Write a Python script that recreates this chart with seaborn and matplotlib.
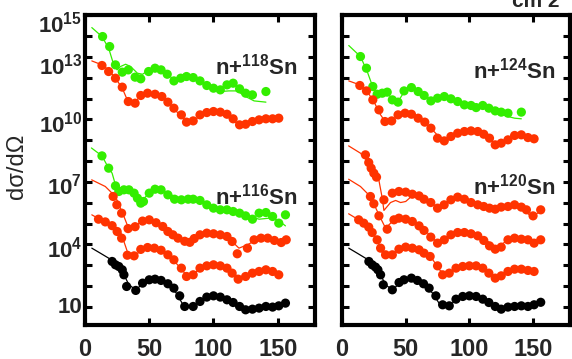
import numpy as np
import pandas as pd
import seaborn as sns
import matplotlib.pyplot as plt
import matplotlib.transforms as mtransforms
from matplotlib.ticker import NullLocator

# ---------------- data (angle in deg, cross section as log10 value) ----------------
# Left panel: n+118Sn (green, red) and n+116Sn (green, red, red, black)
l_g118_x = [13.7, 19.2, 23.7, 29.0, 33.7, 39.0, 43.4, 49.5, 54.5, 59.2, 64.0, 69.2, 74.5, 79.0, 84.2, 89.5, 94.8, 100.0, 105.3, 110.5, 115.3, 120.3, 125.0, 130.3, 140.8]
l_g118_y = [13.98, 13.50, 12.62, 12.27, 12.38, 12.03, 11.95, 12.30, 12.46, 12.38, 12.17, 11.85, 11.98, 12.06, 12.01, 11.85, 11.63, 11.50, 11.42, 11.66, 11.74, 11.47, 11.26, 11.18, 11.34]
l_g118_lx = [5.3, 13.2, 18.4, 22.4, 25.0, 27.6, 31.6, 35.5, 40.8, 44.8, 50.0, 55.3, 61.9, 68.4, 75.0, 82.9, 90.8, 98.7, 105.3, 111.9, 118.4, 125.0, 131.6, 140.8]
l_g118_ly = [14.41, 13.98, 13.42, 12.62, 12.38, 12.54, 12.65, 12.54, 12.22, 12.17, 12.38, 12.46, 12.30, 11.95, 12.01, 11.98, 11.82, 11.53, 11.34, 11.37, 11.37, 11.10, 10.89, 10.83]

l_r118_x = [13.2, 18.4, 23.7, 29.0, 33.7, 39.0, 43.4, 48.7, 54.5, 59.8, 64.5, 69.2, 75.0, 79.0, 84.2, 89.5, 94.8, 100.0, 105.3, 110.5, 115.3, 120.3, 125.0, 130.3, 135.5, 140.8, 146.0, 150.8]
l_r118_y = [12.59, 12.30, 11.98, 11.55, 10.86, 10.78, 11.15, 11.26, 11.21, 11.10, 10.83, 10.54, 10.22, 9.87, 9.93, 10.22, 10.33, 10.38, 10.35, 10.25, 10.03, 9.74, 9.77, 9.90, 9.98, 10.03, 10.03, 10.06]
l_r118_lx = [5.3, 13.2, 18.4, 23.7, 29.0, 32.9, 38.2, 43.4, 50.0, 56.6, 64.5, 72.4, 79.0, 84.2, 90.8, 98.7, 106.6, 114.5, 119.8, 127.6, 135.5, 151.3]
l_r118_ly = [12.81, 12.62, 12.38, 11.98, 11.50, 10.94, 10.83, 11.10, 11.26, 11.18, 10.86, 10.30, 9.90, 9.93, 10.22, 10.38, 10.30, 9.98, 9.74, 9.82, 9.98, 10.06]

l_g116_x = [13.2, 18.4, 23.7, 26.3, 30.3, 34.2, 38.2, 40.8, 43.4, 45.5, 50.0, 54.5, 59.2, 64.5, 69.7, 75.0, 80.3, 84.2, 89.5, 94.8, 100.0, 105.3, 110.5, 115.3, 120.3, 125.0, 130.3, 135.5, 140.8, 146.0, 150.8, 156.0]
l_g116_y = [8.25, 7.66, 6.81, 6.54, 6.62, 6.62, 6.46, 6.22, 5.98, 6.06, 6.46, 6.65, 6.62, 6.38, 6.17, 6.14, 6.17, 6.17, 6.11, 5.90, 5.74, 5.66, 5.66, 5.58, 5.50, 5.37, 5.21, 5.50, 5.53, 5.34, 5.02, 5.42]
l_g116_lx = [5.0, 13.2, 18.4, 21.1, 23.7, 27.6, 32.9, 38.2, 43.4, 46.1, 51.3, 56.6, 64.5, 72.4, 80.3, 88.2, 96.1, 104.0, 111.9, 119.8, 127.6, 135.5, 143.4, 150.0, 156.0]
l_g116_ly = [8.63, 8.25, 7.66, 7.42, 6.86, 6.70, 6.65, 6.46, 6.06, 6.22, 6.54, 6.65, 6.46, 6.22, 6.17, 6.11, 5.90, 5.74, 5.69, 5.58, 5.34, 5.21, 5.26, 5.18, 4.89]

l_ra_x = [21.9, 24.8, 28.5, 33.5, 39.0, 44.8, 50.0, 55.3, 60.5, 64.5, 68.4, 72.4, 77.6, 81.6, 85.0, 89.5, 94.8, 100.0, 105.3, 110.5, 114.5, 118.5, 126.4, 131.6, 137.0, 142.2, 147.4, 152.7, 156.6]
l_ra_y = [6.30, 5.90, 5.50, 4.76, 4.85, 5.12, 5.18, 5.04, 4.86, 4.62, 4.46, 4.30, 4.15, 4.10, 4.28, 4.46, 4.54, 4.51, 4.46, 4.38, 4.14, 3.55, 3.82, 4.22, 4.30, 4.30, 4.19, 4.09, 4.22]
l_ra_lx = [5.2, 15.8, 23.7, 30.3, 34.2, 42.1, 50.0, 57.9, 68.4, 78.9, 86.8, 97.4, 107.9, 115.8, 119.8, 126.4, 134.2, 144.8, 156.6]
l_ra_ly = [7.10, 6.78, 6.30, 5.34, 4.73, 5.02, 5.18, 4.94, 4.46, 4.14, 4.38, 4.54, 4.43, 4.06, 3.82, 3.98, 4.25, 4.27, 4.19]

l_rb_x = [10.5, 15.8, 21.1, 25.0, 28.5, 32.9, 38.2, 43.4, 48.7, 54.0, 59.2, 64.5, 69.2, 75.0, 79.0, 84.2, 89.5, 94.8, 100.0, 105.3, 110.5, 114.5, 119.2, 125.0, 130.3, 135.5, 140.8, 146.0, 150.8]
l_rb_y = [5.21, 5.08, 4.90, 4.62, 4.30, 3.48, 3.45, 3.76, 3.85, 3.82, 3.72, 3.50, 3.26, 2.86, 2.46, 2.54, 2.86, 2.97, 3.02, 2.97, 2.86, 2.62, 2.33, 2.46, 2.62, 2.70, 2.78, 2.70, 2.54]
l_rb_lx = [5.3, 10.5, 21.1, 27.6, 31.6, 34.2, 39.5, 46.1, 54.0, 61.9, 69.8, 77.6, 82.9, 90.8, 100.0, 109.2, 117.1, 122.4, 130.3, 140.8, 150.8]
l_rb_ly = [5.42, 5.24, 4.97, 4.62, 3.90, 3.42, 3.50, 3.82, 3.82, 3.58, 3.18, 2.62, 2.49, 2.91, 3.05, 2.91, 2.54, 2.38, 2.59, 2.78, 2.57]

l_k_x = [21.1, 23.7, 26.3, 29.0, 30.3, 32.4, 39.5, 44.8, 50.0, 54.5, 59.2, 64.5, 69.2, 73.7, 77.6, 84.2, 89.5, 94.8, 100.0, 105.3, 110.5, 115.3, 120.3, 125.0, 130.3, 135.5, 140.8, 146.0, 150.8, 156.0]
l_k_y = [3.18, 3.02, 2.94, 2.78, 2.54, 1.98, 1.79, 2.14, 2.30, 2.33, 2.27, 2.11, 1.90, 1.53, 1.02, 1.02, 1.26, 1.47, 1.53, 1.47, 1.34, 1.21, 1.02, 0.86, 0.89, 0.94, 1.02, 0.99, 1.05, 1.18]
l_k_lx = [5.3, 11.9, 18.4, 25.0, 30.3, 34.2, 39.5, 46.1, 54.0, 63.2, 71.1, 76.3, 82.9, 90.8, 100.0, 109.2, 118.4, 125.0, 135.5, 146.0, 156.0]
l_k_ly = [3.82, 3.58, 3.34, 3.02, 2.54, 2.06, 1.82, 2.17, 2.35, 2.14, 1.66, 1.10, 0.94, 1.31, 1.55, 1.37, 1.02, 0.86, 0.94, 1.02, 1.18]

# Right panel: n+124Sn (green, red) and n+120Sn (red, red, red, black)
r_g124_x = [14.5, 19.2, 24.2, 27.6, 31.6, 35.5, 39.5, 44.0, 48.7, 54.5, 59.8, 64.5, 69.8, 75.0, 80.3, 85.5, 90.8, 96.1, 101.3, 105.3, 110.5, 115.3, 120.3, 125.0, 130.3, 140.8]
r_g124_y = [13.02, 12.46, 11.58, 11.21, 11.26, 11.31, 10.94, 10.83, 11.37, 11.53, 11.34, 11.15, 10.89, 11.02, 11.10, 10.99, 10.86, 10.70, 10.67, 10.57, 10.67, 10.54, 10.41, 10.35, 10.30, 10.35]
r_g124_lx = [5.3, 14.5, 19.8, 25.0, 29.0, 34.2, 39.5, 44.8, 48.7, 54.0, 61.9, 69.8, 77.6, 85.5, 93.4, 104.0, 111.9, 122.4, 130.3, 135.5, 140.8]
r_g124_ly = [13.55, 13.02, 12.30, 11.42, 11.21, 11.31, 11.02, 10.94, 11.31, 11.53, 11.26, 10.94, 11.02, 10.94, 10.78, 10.62, 10.57, 10.30, 10.14, 10.06, 10.03]

r_r124_x = [14.0, 19.2, 24.2, 29.0, 33.7, 39.0, 44.0, 49.5, 54.5, 59.8, 65.0, 69.8, 75.0, 80.3, 85.5, 90.8, 96.1, 101.3, 106.6, 111.3, 115.8, 120.3, 125.0, 130.3, 135.5, 140.8, 146.0, 150.8]
r_r124_y = [11.63, 11.37, 10.94, 10.46, 9.90, 9.93, 10.22, 10.30, 10.25, 10.06, 9.87, 9.58, 9.10, 8.97, 9.18, 9.34, 9.42, 9.45, 9.42, 9.29, 9.10, 8.78, 8.86, 9.02, 9.23, 9.26, 9.13, 9.07]
r_r124_lx = [5.3, 14.0, 19.8, 25.0, 30.3, 34.2, 39.5, 46.1, 54.0, 61.9, 69.8, 77.6, 82.9, 90.8, 101.3, 111.9, 119.8, 125.0, 132.9, 140.8, 150.8]
r_r124_ly = [11.85, 11.66, 11.34, 10.86, 10.22, 9.87, 9.98, 10.25, 10.25, 10.03, 9.58, 9.07, 9.02, 9.34, 9.47, 9.29, 8.86, 8.81, 9.13, 9.26, 9.07]

r_ra_x = [18.4, 21.0, 22.9, 25.0, 27.1, 32.9, 39.5, 44.7, 50.0, 55.2, 60.5, 64.4, 69.7, 75.0, 80.2, 85.5, 90.8, 96.1, 101.3, 106.6, 111.3, 115.8, 120.3, 125.0, 130.3, 135.5, 140.8, 144.8, 150.0, 156.0]
r_ra_y = [8.30, 7.93, 7.66, 7.42, 7.23, 6.14, 6.46, 6.54, 6.51, 6.41, 6.33, 6.17, 6.01, 5.74, 5.90, 6.14, 6.27, 6.17, 6.01, 5.90, 5.82, 5.74, 5.69, 5.79, 5.82, 5.90, 5.79, 5.66, 5.37, 5.66]
r_ra_lx = [5.2, 14.5, 21.0, 25.0, 28.9, 31.6, 32.9, 35.5, 38.1, 42.1, 46.0, 50.0, 53.9, 60.5, 67.0, 75.0, 85.5, 96.1, 109.2, 119.8, 130.3, 140.8, 148.7, 156.0]
r_ra_ly = [8.73, 8.38, 7.93, 7.50, 7.10, 6.22, 5.63, 5.82, 6.01, 6.11, 6.01, 6.06, 6.27, 6.33, 6.10, 5.79, 6.14, 6.14, 5.85, 5.69, 5.82, 5.74, 5.34, 5.58]

r_rb_x = [22.3, 25.0, 29.0, 35.5, 40.8, 44.7, 50.0, 55.2, 60.5, 64.4, 69.7, 75.0, 80.3, 85.5, 90.8, 96.1, 101.3, 106.6, 111.3, 115.8, 120.3, 125.0, 130.3, 135.5, 140.8, 146.0, 150.8, 156.0]
r_rb_y = [6.30, 5.95, 5.37, 4.73, 5.18, 5.26, 5.21, 5.10, 4.89, 4.67, 4.35, 4.06, 4.22, 4.46, 4.57, 4.57, 4.51, 4.41, 4.19, 3.93, 3.77, 3.87, 4.22, 4.30, 4.25, 4.22, 4.06, 4.22]
r_rb_lx = [5.2, 14.5, 22.3, 29.0, 34.2, 39.5, 44.7, 54.0, 64.4, 75.0, 80.3, 90.8, 101.3, 111.9, 118.4, 122.4, 130.3, 140.8, 151.3]
r_rb_ly = [7.13, 6.78, 6.30, 5.42, 4.78, 5.10, 5.26, 5.18, 4.73, 4.06, 4.19, 4.57, 4.54, 4.25, 3.98, 3.87, 4.22, 4.28, 4.09]

r_rc_x = [13.1, 17.1, 21.0, 23.7, 27.6, 30.3, 34.2, 39.5, 44.7, 50.0, 55.2, 60.5, 64.4, 69.2, 75.0, 79.0, 84.2, 89.5, 94.8, 100.0, 105.3, 110.5, 115.3, 120.3, 125.0, 130.3, 135.5, 140.8, 146.0, 150.8]
r_rc_y = [5.18, 5.02, 4.83, 4.57, 4.22, 3.82, 3.50, 3.50, 3.77, 3.87, 3.82, 3.74, 3.58, 3.42, 2.97, 2.54, 2.62, 2.86, 2.94, 2.97, 2.97, 2.86, 2.62, 2.38, 2.49, 2.70, 2.81, 2.81, 2.75, 2.70]
r_rc_lx = [5.2, 13.1, 21.0, 27.6, 32.0, 35.5, 40.0, 46.0, 54.0, 62.0, 70.0, 77.0, 82.0, 90.0, 100.0, 109.0, 117.0, 122.0, 130.0, 140.0, 151.0]
r_rc_ly = [5.47, 5.18, 4.85, 4.22, 3.55, 3.45, 3.50, 3.80, 3.85, 3.70, 3.38, 2.75, 2.55, 2.85, 2.98, 2.90, 2.55, 2.38, 2.65, 2.80, 2.70]

r_k_x = [21.1, 23.7, 26.3, 28.2, 30.3, 32.4, 39.5, 44.8, 48.7, 54.5, 59.2, 64.0, 68.4, 73.7, 79.0, 84.2, 89.5, 94.8, 100.0, 105.3, 110.5, 115.3, 120.3, 125.0, 130.3, 135.5, 140.8, 146.0, 150.8, 156.0]
r_k_y = [3.18, 3.02, 2.91, 2.78, 2.54, 2.06, 1.82, 2.17, 2.30, 2.38, 2.27, 2.11, 1.90, 1.53, 1.10, 1.05, 1.37, 1.50, 1.53, 1.50, 1.37, 1.21, 1.02, 0.89, 0.99, 1.02, 1.05, 1.02, 1.10, 1.22]
r_k_lx = [5.3, 11.9, 18.4, 25.0, 30.3, 34.2, 39.5, 46.1, 54.0, 63.2, 71.1, 77.0, 82.9, 90.8, 100.0, 109.2, 118.4, 125.0, 135.5, 146.0, 156.0]
r_k_ly = [3.82, 3.58, 3.34, 3.00, 2.54, 2.06, 1.82, 2.17, 2.38, 2.14, 1.66, 1.10, 1.02, 1.37, 1.55, 1.40, 1.05, 0.89, 1.00, 1.03, 1.22]

x_ticks = [0, 50, 100, 150]
y_tick_exps = list(range(1, 16))
y_label_map = {15: r'$10^{15}$', 13: r'$10^{13}$', 10: r'$10^{10}$', 7: r'$10^{7}$', 4: r'$10^{4}$', 1: '10'}
panel_labels = [(r'n+$^{118}$Sn', r'n+$^{116}$Sn'), (r'n+$^{124}$Sn', r'n+$^{120}$Sn')]

GREEN = '#33ee00'
RED = '#ff3300'
BLACK = '#000000'

left_curves = [
    (l_g118_x, l_g118_y, l_g118_lx, l_g118_ly, GREEN),
    (l_r118_x, l_r118_y, l_r118_lx, l_r118_ly, RED),
    (l_g116_x, l_g116_y, l_g116_lx, l_g116_ly, GREEN),
    (l_ra_x, l_ra_y, l_ra_lx, l_ra_ly, RED),
    (l_rb_x, l_rb_y, l_rb_lx, l_rb_ly, RED),
    (l_k_x, l_k_y, l_k_lx, l_k_ly, BLACK),
]
right_curves = [
    (r_g124_x, r_g124_y, r_g124_lx, r_g124_ly, GREEN),
    (r_r124_x, r_r124_y, r_r124_lx, r_r124_ly, RED),
    (r_ra_x, r_ra_y, r_ra_lx, r_ra_ly, RED),
    (r_rb_x, r_rb_y, r_rb_lx, r_rb_ly, RED),
    (r_rc_x, r_rc_y, r_rc_lx, r_rc_ly, RED),
    (r_k_x, r_k_y, r_k_lx, r_k_ly, BLACK),
]

# ---------------- style ----------------
sns.set_theme(style='ticks')
plt.rcParams['font.family'] = ['Liberation Sans', 'DejaVu Sans']
plt.rcParams.update({
    'mathtext.fontset': 'custom',
    'mathtext.rm': 'Liberation Sans:bold',
    'mathtext.bf': 'Liberation Sans:bold',
    'mathtext.it': 'Liberation Sans:bold',
    'mathtext.sf': 'Liberation Sans:bold',
    'mathtext.default': 'bf',
})

W, H = 572, 359
fig = plt.figure(figsize=(W / 100, H / 100), dpi=100)
fig.patch.set_facecolor('white')
y_top, y_bot = 15.3, 325.0
axL = fig.add_axes([85 / W, 1 - y_bot / H, 230 / W, (y_bot - y_top) / H])
axR = fig.add_axes([342 / W, 1 - y_bot / H, 228 / W, (y_bot - y_top) / H])

for ax, curves in ((axL, left_curves), (axR, right_curves)):
    ax.set_facecolor('white')
    ax.set_yscale('log')
    for px, py, lx, ly, c in curves:
        df_l = pd.DataFrame({'angle': lx, 'xs': 10 ** np.array(ly)})
        df_p = pd.DataFrame({'angle': px, 'xs': 10 ** np.array(py)})
        sns.scatterplot(data=df_p, x='angle', y='xs', ax=ax, color=c, s=44,
                        edgecolor='none', linewidth=0, zorder=3)
        sns.lineplot(data=df_l, x='angle', y='xs', ax=ax, color=c, linewidth=0.9,
                     sort=False, estimator=None, zorder=4)
    ax.set_xlim(0, 179)
    ax.set_ylim(10 ** 0.13, 1e15)
    ax.set_xticks(x_ticks)
    ax.set_xticklabels([str(t) for t in x_ticks], fontsize=17, fontweight='bold')
    ax.set_yticks([10.0 ** e for e in y_tick_exps])
    ax.yaxis.set_minor_locator(NullLocator())
    ax.xaxis.set_minor_locator(NullLocator())
    ax.tick_params(axis='both', which='major', direction='in', length=5, width=2.2,
                   top=True, right=True, color='black')
    ax.tick_params(axis='x', pad=9)
    ax.tick_params(axis='y', pad=2)
    for sp in ax.spines.values():
        sp.set_linewidth(3)
        sp.set_color('black')
    ax.set_xlabel('')
    ax.set_ylabel('')

axL.set_yticklabels([y_label_map.get(e, '') for e in y_tick_exps], fontsize=16, fontweight='bold')
axR.set_yticklabels(['' for e in y_tick_exps])

# small vertical nudges of the y tick labels (pixels, positive = down)
label_shift = {15: 6.5, 13: 7.0, 10: 2.5, 7: 2.5, 4: 2.5, 1: -1.5}
for e, lab in zip(y_tick_exps, axL.get_yticklabels()):
    dy = label_shift.get(e, 0.0)
    if dy:
        off = mtransforms.ScaledTranslation(0, -dy / 100.0, fig.dpi_scale_trans)
        lab.set_transform(lab.get_transform() + off)

axL.set_ylabel('d\u03c3/d\u03a9', fontsize=17, fontweight='normal')
axL.yaxis.set_label_coords((28 - 85) / 230, (325 - 166) / 309.7)

# panel labels
fig.text(215 / W, 1 - 75 / H, panel_labels[0][0], fontsize=16, fontweight='bold', ha='left', va='baseline')
fig.text(215 / W, 1 - 204 / H, panel_labels[0][1], fontsize=16, fontweight='bold', ha='left', va='baseline')
fig.text(473 / W, 1 - 78 / H, panel_labels[1][0], fontsize=16, fontweight='bold', ha='left', va='baseline')
fig.text(473 / W, 1 - 195 / H, panel_labels[1][1], fontsize=16, fontweight='bold', ha='left', va='baseline')
fig.text(512 / W, 1 - 7 / H, 'cm 2', fontsize=15, fontweight='bold', ha='left', va='baseline')

fig.savefig('out.png', dpi=100, facecolor='white')
